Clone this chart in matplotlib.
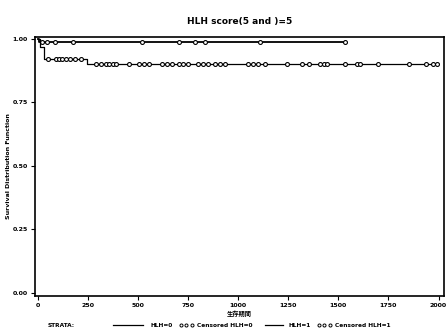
import matplotlib
matplotlib.use("Agg")
import matplotlib.pyplot as plt
import numpy as np

plt.rcParams['font.family'] = ['DejaVu Sans', 'Noto Sans CJK JP']

title = "HLH score(5 and )=5"
xlabel = "生存期間"
ylabel = "Survival Distribution Function"
x_ticks = [0, 250, 500, 750, 1000, 1250, 1500, 1750, 2000]
y_ticks = [0.00, 0.25, 0.50, 0.75, 1.00]

# Stratum HLH=0 (upper curve): event times / survival, censor times
s0_times = [0, 3, 1532]
s0_surv = [1.00, 0.99, 0.99]
s0_cens = [20, 44, 84, 173, 519, 702, 786, 835, 1107, 1532]

# Stratum HLH=1 (lower curve)
s1_times = [0, 8, 30, 247, 1990]
s1_surv = [1.00, 0.97, 0.92, 0.90, 0.90]
s1_cens_a = [49, 90, 105, 120, 140, 160, 185, 215]
s1_cens_b = [292, 316, 341, 356, 375, 390, 455, 504, 529, 553, 618, 642, 667,
             702, 726, 751, 800, 825, 850, 884, 909, 934, 1047, 1072, 1097,
             1136, 1245, 1319, 1354, 1408, 1428, 1443, 1532, 1591, 1606, 1700,
             1853, 1937, 1971, 1990]


def surv_at(times, surv, t):
    idx = np.searchsorted(times, t, side='right') - 1
    return np.asarray(surv)[idx]

fig = plt.figure(figsize=(4.48, 3.36), dpi=100)
ax = fig.add_axes([0.078, 0.119, 0.912, 0.771])

ax.step(s0_times, s0_surv, where='post', color='black', lw=1.3)
ax.plot(s0_cens, surv_at(s0_times, s0_surv, s0_cens), 'o', mfc='white',
        mec='black', ms=2.8, mew=0.8)

ax.step(s1_times, s1_surv, where='post', color='black', lw=0.9)
c1 = s1_cens_a + s1_cens_b
ax.plot(c1, surv_at(s1_times, s1_surv, c1), 'o', mfc='white',
        mec='black', ms=2.8, mew=0.8)

ax.set_xlim(-15, 2025)
ax.set_ylim(-0.012, 1.008)
ax.set_xticks(x_ticks)
ax.set_xticklabels([str(v) for v in x_ticks], fontsize=4.5, fontweight='bold')
ax.set_yticks(y_ticks)
ax.set_yticklabels([f"{v:.2f}" for v in y_ticks], fontsize=4.5, fontweight='bold')
ax.tick_params(direction='out', length=3, width=0.8, pad=2)
for s in ax.spines.values():
    s.set_linewidth(1.2)

ax.set_title(title, fontsize=6.5, fontweight='bold', pad=9)
ax.set_xlabel(xlabel, fontsize=4.5, fontweight='bold', labelpad=2)
fig.text(0.02, 0.505, ylabel, rotation=90, fontsize=4.5, fontweight='bold',
         ha='center', va='center')

# Legend row (SAS-style)
fy = 0.032
fs = 4.2
fig.text(0.107, fy, "STRATA:", fontsize=fs, fontweight='bold', va='center')
fig.add_artist(plt.Line2D([0.252, 0.32], [fy, fy], color='black', lw=0.9,
                          transform=fig.transFigure))
fig.text(0.335, fy, "HLH=0", fontsize=fs, fontweight='bold', va='center')
fig.add_artist(plt.Line2D([0.404, 0.416, 0.428], [fy, fy, fy], ls='none',
                          marker='o', ms=2.2, mfc='white', mec='black', mew=0.7,
                          transform=fig.transFigure))
fig.text(0.439, fy, "Censored HLH=0", fontsize=fs, fontweight='bold', va='center')
fig.add_artist(plt.Line2D([0.592, 0.632], [fy, fy], color='black', lw=0.9,
                          transform=fig.transFigure))
fig.text(0.645, fy, "HLH=1", fontsize=fs, fontweight='bold', va='center')
fig.add_artist(plt.Line2D([0.712, 0.724, 0.736], [fy, fy, fy], ls='none',
                          marker='o', ms=2.2, mfc='white', mec='black', mew=0.7,
                          transform=fig.transFigure))
fig.text(0.747, fy, "Censored HLH=1", fontsize=fs, fontweight='bold', va='center')

fig.savefig("out.png", dpi=100)
